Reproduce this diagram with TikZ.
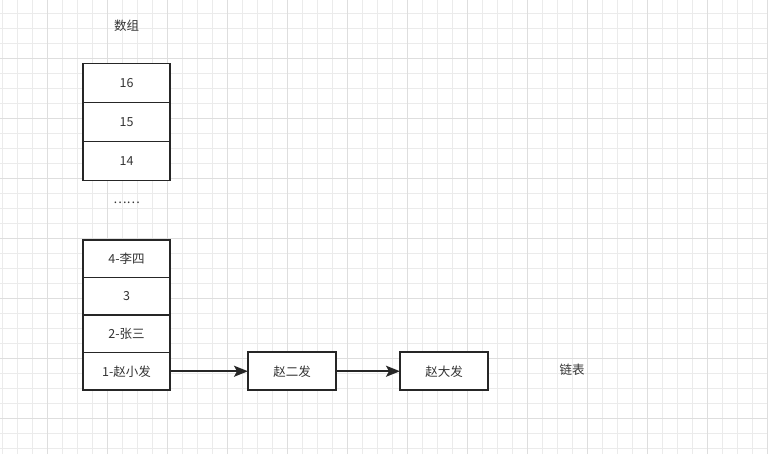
\documentclass[tikz,border=0pt]{standalone}
\usepackage{fontspec}
\setmainfont{Noto Sans CJK SC}
\usetikzlibrary{positioning,arrows.meta}
\definecolor{gridminor}{HTML}{EBEBEB}
\definecolor{gridmajor}{HTML}{DEDEDE}

\begin{document}
\begin{tikzpicture}[x=1pt,y=-1pt,
	cell/.style={rectangle, draw=black!85, fill=white, line width=1.8pt, minimum width=87pt, minimum height=39pt, outer sep=0pt, text=black!80, font=\fontsize{12.5}{14}\selectfont},
	label/.style={text=black!80, font=\fontsize{12.5}{14}\selectfont},
	link/.style={draw=black!85, line width=1.6pt, -{Stealth[length=14pt,width=11pt,inset=3pt]}}]
			\useasboundingbox (0,0) rectangle (768,454);
			\fill[white] (0,0) rectangle (768,454);
			% grid
			\foreach \x in {2,17,...,767} \draw[gridminor, line width=0.7pt] (\x,0) -- (\x,454);
			\foreach \y in {13.3,28.3,...,454} \draw[gridminor, line width=0.7pt] (0,\y) -- (768,\y);
			\foreach \x in {47,107,...,767} \draw[gridmajor, line width=0.9pt] (\x,0) -- (\x,454);
			\foreach \y in {58.3,118.3,...,454} \draw[gridmajor, line width=0.9pt] (0,\y) -- (768,\y);
			
			\node (title) [label] at (126.5,26) {数组};
			\node (a16) [cell] at (126.5,83) {16};
			\node (a15) [cell, below=0 of a16] {15};
			\node (a14) [cell, below=0 of a15] {14};
			\node (dots) [label] at (126.5,203) {……};
			
			\node (a4) [cell, minimum height=37.5pt] at (126.5,258.75) {4-李四};
			\node (a3) [cell, minimum height=37.5pt, below=0 of a4] {3};
			\node (a2) [cell, minimum height=37.5pt, below=0 of a3] {2-张三};
			\node (a1) [cell, minimum height=37.5pt, below=0 of a2] {1-赵小发};
			
			\node (n2) [cell, minimum width=88pt, minimum height=38pt, right=78 of a1] {赵二发};
			\node (n3) [cell, minimum width=88pt, minimum height=38pt, right=64 of n2] {赵大发};
			\node (list) [label] at (572,370) {链表};
			
			\draw [link] (a1) -- (n2);
			\draw [link] (n2) -- (n3);
			%\draw [link] (n3) -- (list);
		\end{tikzpicture}
\end{document}
